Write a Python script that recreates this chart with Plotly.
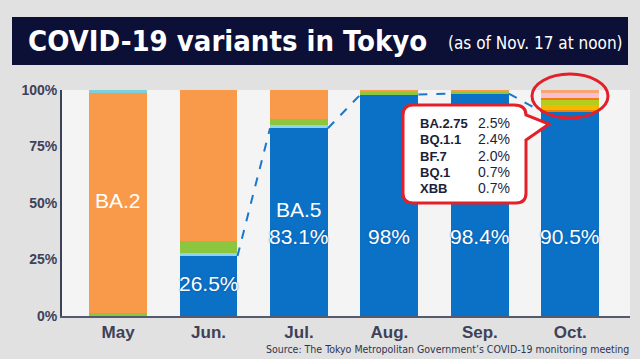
import plotly.graph_objects as go

# ---------------- data ----------------
months = ["May", "Jun.", "Jul.", "Aug.", "Sep.", "Oct."]
ba5 = [0.0, 26.5, 83.1, 98.0, 98.4, 90.5]
ba5_sub = [0.0, 1.5, 1.3, 0.0, 0.0, 0.0]
ba2_sub = [1.5, 5.0, 2.7, 1.0, 0.8, 0.0]
ba2 = [97.3, 67.0, 12.9, 1.0, 0.8, 0.0]
ba1 = [1.2, 0.0, 0.0, 0.0, 0.0, 0.0]
xbb = [0, 0, 0, 0, 0, 0.7]
bf7 = [0, 0, 0, 0, 0, 2.0]
bq11 = [0, 0, 0, 0, 0, 2.4]
bq1 = [0, 0, 0, 0, 0, 0.7]
ba275 = [0, 0, 0, 0, 0, 2.5]
others = [0, 0, 0, 0, 0, 1.2]

callout_names = ["BA.2.75", "BQ.1.1", "BF.7", "BQ.1", "XBB"]
callout_vals = [2.5, 2.4, 2.0, 0.7, 0.7]

ytick_vals = [0, 25, 50, 75, 100]
ytick_text = ["0%", "25%", "50%", "75%", "100%"]

# ---------------- layout constants ----------------
W, H = 640, 359
PL, PR, PT, PB = 62, 630, 90, 316   # plot area pixel box
BW = 0.64
NARROW = "Liberation Sans Narrow, DejaVu Sans Condensed, Roboto Condensed, Arial Narrow, sans-serif"
SANS = "Liberation Sans, Arial, sans-serif"


def px(x):
    return (x - PL) / (PR - PL)


def py(y):
    return (PB - y) / (PB - PT)


xs = list(range(len(months)))
fig = go.Figure()

series = [
    (ba5, "#0a71c7"),
    (ba5_sub, "#8fd3f0"),
    (ba2_sub, "#8cc63e"),
    (ba2, "#f99a4b"),
    (ba1, "#7dcfd9"),
    (xbb, "#ef8200"),
    (bf7, "#f3b800"),
    (bq11, "#b3cc1e"),
    (bq1, "#f57c10"),
    (ba275, "#f7c0d2"),
    (others, "#f8a574"),
]
for vals, col in series:
    fig.add_trace(go.Bar(x=xs, y=vals, width=BW, marker=dict(color=col, line=dict(width=0)),
                         hoverinfo="skip", showlegend=False))

# dashed connector between tops of BA.5 bars
lx, ly = [], []
for i in range(1, len(months) - 1):
    lx += [i + BW / 2, i + 1 - BW / 2, None]
    ly += [ba5[i], ba5[i + 1], None]
fig.add_trace(go.Scatter(x=lx, y=ly, mode="lines", line=dict(color="#1a78cc", width=2, dash="dash"),
                         hoverinfo="skip", showlegend=False, connectgaps=False))

annotations = []
shadow = "0px 0px 2px #0a4f9a"
lab_font = dict(family=SANS, size=21, color="white", shadow=shadow)
annotations.append(dict(x=0, y=51, xref="x", yref="y", text="BA.2", showarrow=False,
                        font=dict(family=SANS, size=21, color="white")))
annotations.append(dict(x=2, y=47, xref="x", yref="y", text="BA.5", showarrow=False,
                        font=dict(family=SANS, size=21, color="white")))
annotations.append(dict(x=1, y=14.5, xref="x", yref="y", text=f"{ba5[1]}%", showarrow=False, font=lab_font))
for i in range(2, 6):
    v = ba5[i]
    t = f"{v:g}%"
    annotations.append(dict(x=i, y=35, xref="x", yref="y", text=t, showarrow=False, font=lab_font))

# title
annotations.append(dict(x=px(26), y=py(41), xref="paper", yref="paper", xanchor="left", yanchor="middle",
                        text="<b>COVID-19 variants in Tokyo</b>", showarrow=False,
                        font=dict(family=NARROW, size=29, color="white")))
annotations.append(dict(x=px(625), y=py(43), xref="paper", yref="paper", xanchor="right", yanchor="middle",
                        text="(as of Nov. 17 at noon)", showarrow=False,
                        font=dict(family=NARROW, size=17, color="white")))
# source
annotations.append(dict(x=px(631), y=py(349), xref="paper", yref="paper", xanchor="right", yanchor="middle",
                        text="Source: The Tokyo Metropolitan Government’s COVID-19 monitoring meeting",
                        showarrow=False,
                        font=dict(family=NARROW, size=10.5, color="#2f3450")))

# callout text
row_y = [123, 139, 156, 172, 188]
for name, val, yy in zip(callout_names, callout_vals, row_y):
    annotations.append(dict(x=px(418), y=py(yy), xref="paper", yref="paper", xanchor="left", yanchor="middle",
                            text=f"<b>{name}</b>", showarrow=False,
                            font=dict(family=SANS, size=13, color="#1b1f3b")))
    annotations.append(dict(x=px(476), y=py(yy), xref="paper", yref="paper", xanchor="left", yanchor="middle",
                            text=f"{val:.1f}%", showarrow=False,
                            font=dict(family=SANS, size=14, color="#1b1f3b")))

shapes = []
# title banner
shapes.append(dict(type="rect", xref="paper", yref="paper", x0=px(12), x1=px(628), y0=py(65), y1=py(17),
                   fillcolor="#0c0f36", line=dict(width=0), layer="above"))
# ellipse
shapes.append(dict(type="circle", xref="paper", yref="paper", x0=px(532), x1=px(608), y0=py(118), y1=py(74),
                   line=dict(color="#e3202a", width=3), fillcolor="rgba(0,0,0,0)", layer="above"))


def P(x, y):
    return f"{px(x):.5f},{py(y):.5f}"


path = (f"M {P(413,105)} L {P(514,105)} Q {P(526,105)} {P(526,115)} L {P(549,124)} L {P(526,140)} "
        f"L {P(526,193)} Q {P(526,203)} {P(516,203)} L {P(413,203)} Q {P(403,203)} {P(403,193)} "
        f"L {P(403,115)} Q {P(403,105)} {P(413,105)} Z")
shapes.append(dict(type="path", xref="paper", yref="paper", path=path, fillcolor="white",
                   line=dict(color="#e3202a", width=3), layer="above"))

fig.update_layout(
    width=W, height=H,
    margin=dict(l=PL, r=W - PR, t=PT, b=H - PB),
    paper_bgcolor="#e1e1e1", plot_bgcolor="#f4f4f4",
    barmode="stack", bargap=0,
    annotations=annotations, shapes=shapes,
    xaxis=dict(range=[-0.62, 5.66], tickvals=xs, ticktext=[f"<b>{m}</b>" for m in months],
               showgrid=False, zeroline=False, showline=True, linecolor="#555a6e", linewidth=2,
               tickfont=dict(family=SANS, size=17, color="#3d4259"), fixedrange=True),
    yaxis=dict(range=[0, 100], tickvals=ytick_vals, ticktext=[f"<b>{t}</b>" for t in ytick_text],
               showgrid=False, zeroline=False, showline=True, linecolor="#3d4259", linewidth=2,
               tickfont=dict(family=SANS, size=14, color="#3d4259"), fixedrange=True),
)

fig.write_html("out.html", config={"displayModeBar": False},
               post_script="document.body.style.margin='0';document.body.style.background='#e1e1e1';")
